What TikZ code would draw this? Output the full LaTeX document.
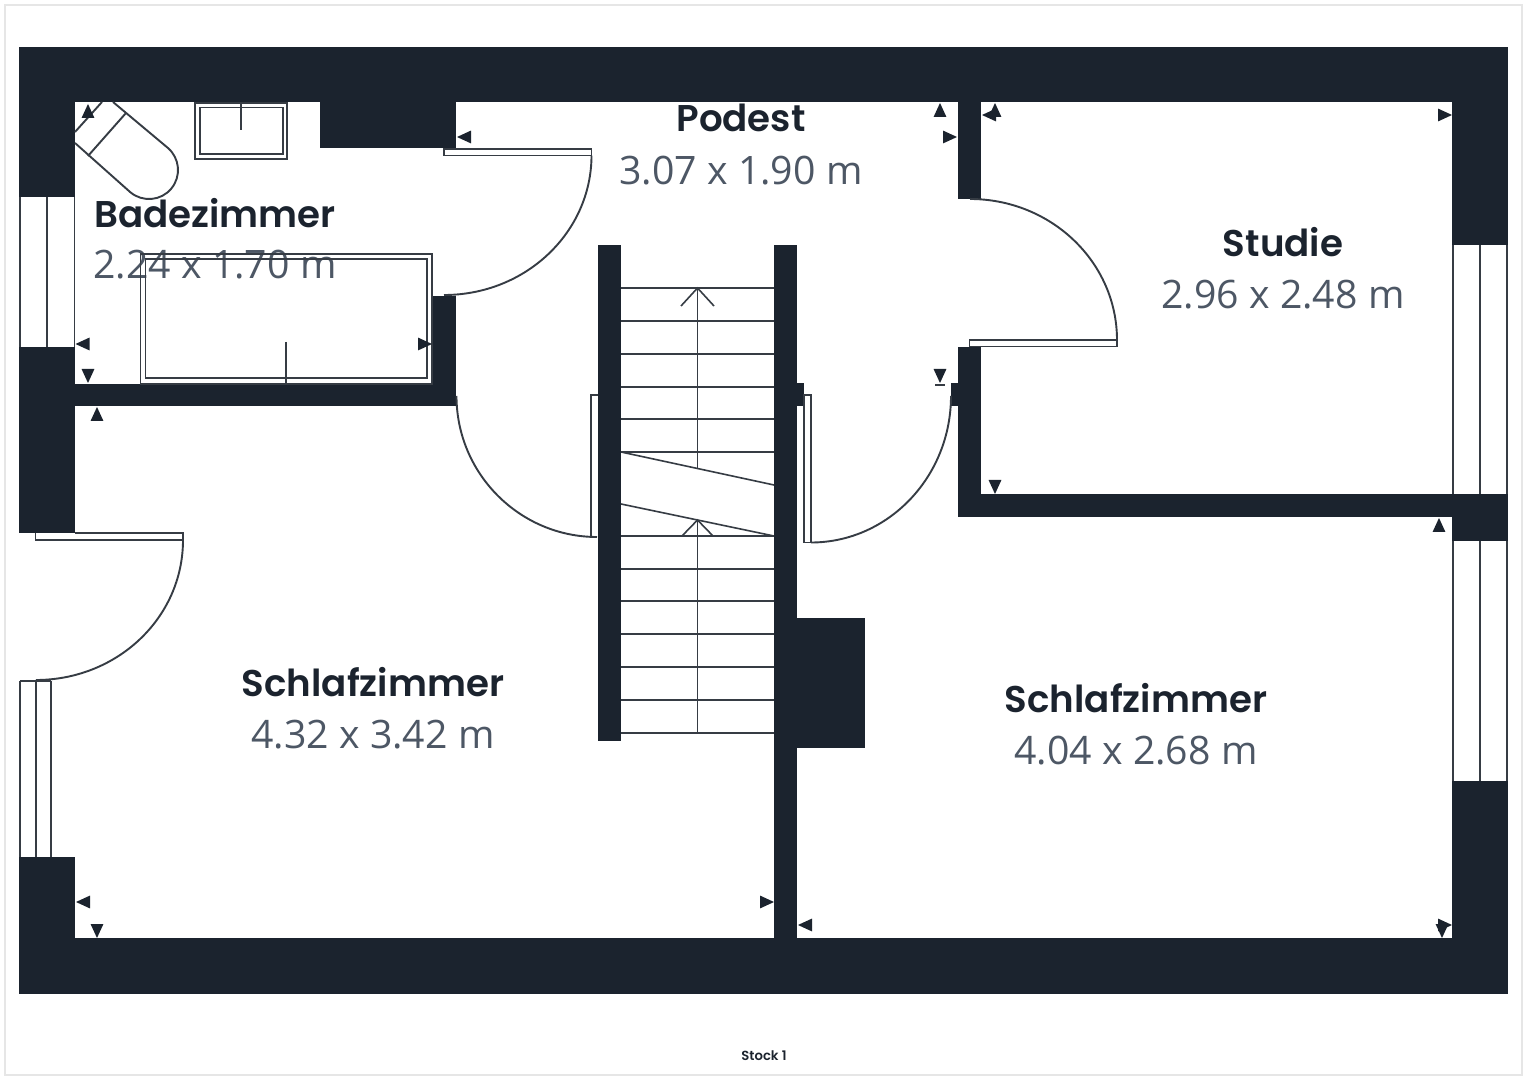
\documentclass[tikz,border=0pt]{standalone}
\usepackage{fontspec}
\setmainfont{Open Sans}
\newfontfamily\titlefont{Poppins}[UprightFont=* SemiBold]
\definecolor{wall}{HTML}{1B232E}
\definecolor{frameline}{HTML}{363C44}
\definecolor{dimtext}{HTML}{4D5765}
\definecolor{edge}{HTML}{E6E6E6}
\tikzset{
  wallfill/.style={fill=wall,draw=none},
  openfill/.style={fill=white,draw=none},
  frame/.style={draw=frameline,line width=0.95pt},
  thin line/.style={draw=frameline,line width=0.8pt},
  tip/.style={fill=wall,draw=none},
  roomname/.style={font=\titlefont\fontsize{18.6}{22}\selectfont,text=wall,inner sep=0pt,anchor=center},
  roomsize/.style={font=\fontsize{19.6}{22}\selectfont,text=dimtext,inner sep=0pt,anchor=center}
}
% apex x, apex y, dx, dy : triangle whose base lies back along (dx,dy)
\newcommand{\mtri}[4]{\fill[tip] (#1,#2) -- ({#1+#3+(#4)*0.46},{#2+#4+(#3)*0.46}) -- ({#1+#3-(#4)*0.46},{#2+#4-(#3)*0.46}) -- cycle;}
\begin{document}
\begin{tikzpicture}[x=0.5pt,y=-0.5pt]
\useasboundingbox (0,0) rectangle (1527,1080);
\fill[white] (0,0) rectangle (1527,1080);
\draw[edge,line width=0.8pt] (5,5) rectangle (1522,1075);
% shell
\path[wallfill] (19,47) rectangle (1508,994);
\path[openfill] (75,102) rectangle (1452,938);
% inner walls
\path[wallfill] (320,102) rectangle (456,148);
\path[wallfill] (75,384) rectangle (456,406);
\path[wallfill] (432,296) rectangle (456,406);
\path[wallfill] (958,102) rectangle (981,199);
\path[wallfill] (958,347) rectangle (981,517);
\path[wallfill] (958,494) rectangle (1452,517);
\path[wallfill] (774,245) rectangle (797,938);
\path[wallfill] (598,245) rectangle (621,741);
\path[wallfill] (797,383) rectangle (804,406);
\path[wallfill] (951,383) rectangle (958,406);
\path[wallfill] (797,618) rectangle (865,748);
% openings
\path[openfill] (19,197) rectangle (75,347);
\path[openfill] (19,533) rectangle (75,857);
\path[openfill] (1452,245) rectangle (1508,494);
\path[openfill] (1452,541) rectangle (1508,781);
% restore wall corner beside left window
\path[wallfill] (19,857) rectangle (75,938);
% windows
\draw[frame] (20,197) -- (20,347) (47,197) -- (47,347) (74.5,197) -- (74.5,347);
\draw[frame] (20,681) -- (20,857) (36,681) -- (36,857) (51,681) -- (51,857) (20,681) -- (51,681);
\draw[frame] (1453,245) -- (1453,494) (1480,245) -- (1480,494) (1507,245) -- (1507,494);
\draw[frame] (1453,541) -- (1453,781) (1480,541) -- (1480,781) (1507,541) -- (1507,781);
% room labels
\node[roomname] (nbad) at (215,213) {Badezimmer};
\node[roomsize] (sbad) at (215,265) {2.24 x 1.70 m};
\node[roomname] (npod) at (741,118) {Podest};
\node[roomsize] (spod) at (741,171) {3.07 x 1.90 m};
\node[roomname] (nstu) at (1283,242) {Studie};
\node[roomsize] (sstu) at (1283,295) {2.96 x 2.48 m};
\node[roomname] (nsl) at (373,682) {Schlafzimmer};
\node[roomsize] (ssl) at (373,735) {4.32 x 3.42 m};
\node[roomname] (nsr) at (1136,698) {Schlafzimmer};
\node[roomsize] (ssr) at (1136,751) {4.04 x 2.68 m};
\node[font=\titlefont\fontsize{6.6}{8}\selectfont,text=wall,inner sep=0pt] (stock) at (764,1055.5) {Stock 1};
% doors
\draw[frame] (444,149) rectangle (591.5,155.5);
\draw[frame] (591.5,155.5) .. controls (591.5,232) and (526,295) .. (444,295);
\draw[frame] (456.5,396) .. controls (456.5,474) and (520,537) .. (597,537);
\draw[frame] (591,537) -- (591,395) -- (598,395);
\draw[frame] (804,395) rectangle (811,542.5);
\draw[frame] (811,542.5) .. controls (888,542.5) and (951,477) .. (951,396);
\draw[frame] (969.5,340) rectangle (1117,346.5);
\draw[frame] (1117,340) .. controls (1117,262) and (1051,199) .. (970,199);
\draw[frame] (35.5,533) -- (35.5,540) -- (183,540) -- (183,533) -- (75,533);
\draw[frame] (183,540) .. controls (183,618) and (117,680) .. (36,680);
% stair treads
\draw[thin line] (621,288) -- (774,288) (621,321) -- (774,321) (621,354) -- (774,354) (621,387) -- (774,387) (621,419) -- (774,419) (621,452) -- (774,452);
\draw[thin line] (621,536) -- (774,536) (621,569) -- (774,569) (621,601) -- (774,601) (621,634) -- (774,634) (621,667) -- (774,667) (621,700) -- (774,700) (621,733) -- (774,733);
\draw[thin line] (621,452) -- (774,485) (621,504) -- (774,536);
\draw[thin line] (697.5,288) -- (697.5,468) (697.5,520) -- (697.5,733);
\draw[thin line] (681,306) -- (697.5,288) -- (714,306);
\draw[thin line] (682,536) -- (697.5,520) -- (713,536);
% fixtures
\draw[frame] (195,103) rectangle (287,159) (200,107.5) rectangle (283,154) (241,103) -- (241,130);
\draw[frame] (140.5,254) rectangle (432,384) (145.5,259) rectangle (427,378) (286,342) -- (286,384);
\draw[frame,fill=white] (113,102) -- (167.6,147.7) .. controls (179.9,158) and (181.5,176.3) .. (171.3,188.6) .. controls (161,201) and (142.7,202.5) .. (130.4,192.3) -- (75,143);
\draw[frame] (75,132) -- (102,102) (88,156) -- (126,113);
% clearance marks
\mtri{88}{104}{0}{14}
\mtri{75.5}{344}{14}{0}
\mtri{88}{383}{0}{-14}
\mtri{97}{407}{0}{14}
\mtri{432}{344}{-14}{0}
\mtri{457}{137}{14}{0}
\mtri{940}{103}{0}{14}
\mtri{957}{137}{-14}{0}
\mtri{982}{115}{14}{0}
\mtri{995}{103}{0}{14}
\mtri{940}{383}{0}{-14}
\draw[thin line] (935,385) -- (945,385);
\mtri{995}{494}{0}{-14}
\mtri{76}{902}{14}{0}
\mtri{97}{938}{0}{-14}
\mtri{1452}{115}{-14}{0}
\mtri{1439}{518}{0}{14}
\mtri{798}{925}{14}{0}
\mtri{774}{902}{-14}{0}
\mtri{1452}{925}{-14}{0}
\mtri{1442}{938}{0}{-14}
\end{tikzpicture}
\end{document}
